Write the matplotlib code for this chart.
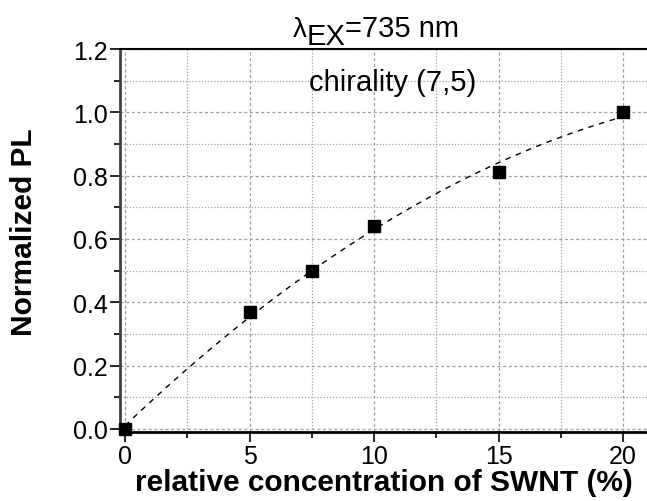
import numpy as np
import matplotlib
matplotlib.use('Agg')
import matplotlib.pyplot as plt
from matplotlib.ticker import MultipleLocator, FormatStrFormatter

plt.rcParams['font.family'] = ['Liberation Sans', 'DejaVu Sans']

# data
conc = np.array([0, 5, 7.5, 10, 15, 20])        # relative concentration of SWNT (%)
norm_pl = np.array([0.0, 0.37, 0.50, 0.64, 0.81, 1.0])

# smooth fit through the points (dashed guide line)
coef = np.polyfit(conc, norm_pl, 2)
x_fit = np.linspace(conc.min(), conc.max(), 200)
y_fit = np.polyval(coef, x_fit)

W, H = 647, 502
fig = plt.figure(figsize=(W / 100, H / 100), dpi=100)
ax = fig.add_axes([120 / W, 1 - 433 / H, 1 - 120 / W, (433 - 50) / H])

ax.set_xlim(-0.2, 20.96)
ax.set_ylim(-0.0095, 1.2)

ax.xaxis.set_major_locator(MultipleLocator(5))
ax.xaxis.set_minor_locator(MultipleLocator(2.5))
ax.yaxis.set_major_locator(MultipleLocator(0.2))
ax.yaxis.set_minor_locator(MultipleLocator(0.1))
ax.yaxis.set_major_formatter(FormatStrFormatter('%.1f'))

ax.grid(which='major', color='#a0a0a0', linestyle=(0, (2.5, 2)), linewidth=0.9)
ax.grid(which='minor', color='#a0a0a0', linestyle=(0, (1, 1.5)), linewidth=0.9)
ax.set_axisbelow(True)

ax.plot(x_fit, y_fit, color='k', linestyle=(0, (4, 4)), linewidth=1.0)
ax.plot(conc, norm_pl, 's', color='k', markersize=8, clip_on=False, zorder=5)

# spines
ax.spines['right'].set_visible(False)
ax.spines['top'].set_linewidth(1.5)
ax.spines['bottom'].set_linewidth(2)
ax.spines['left'].set_linewidth(2)
ax.spines['left'].set_color('#404040')

ax.tick_params(which='major', direction='out', length=7, width=1.2,
               labelsize=18, pad=2, top=False, right=False)
ax.tick_params(which='minor', direction='out', length=4, width=1.2,
               top=False, right=False)

ax.set_xlabel('relative concentration of SWNT (%)', fontsize=21.5, fontweight='bold', labelpad=0)
ax.set_ylabel('Normalized PL', fontsize=21.5, fontweight='bold')
ax.yaxis.set_label_coords(-0.155, 0.525)

# title: lambda, a lowered "EX", then the value
fig.text(293 / W, 1 - 37 / H, 'λ', fontsize=20, va='baseline', ha='left')
fig.text(307 / W, 1 - 45 / H, 'EX', fontsize=21, va='baseline', ha='left')
fig.text(345 / W, 1 - 37 / H, '=735 nm', fontsize=21, va='baseline', ha='left')

ax.text(10.76, 1.07, 'chirality (7,5)', fontsize=21, ha='center', va='baseline')

fig.savefig('out.png', dpi=100)
